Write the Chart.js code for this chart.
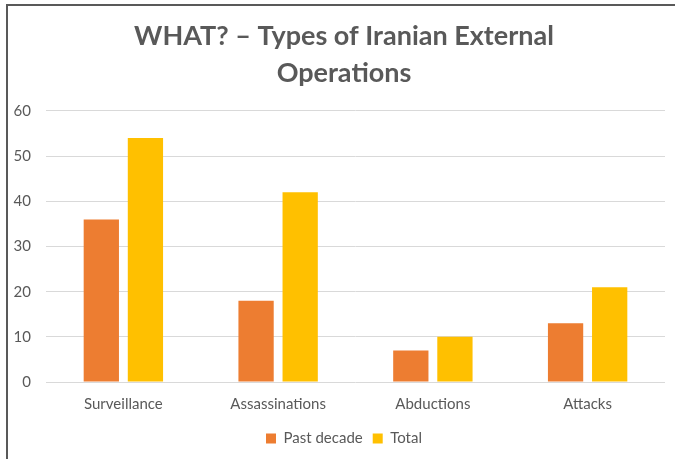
<!DOCTYPE html>
<html>
<head>
<meta charset="utf-8">
<script src="https://cdn.jsdelivr.net/npm/chart.js@4/dist/chart.umd.min.js"></script>
<style>
html,body{margin:0;padding:0;background:#fff;}
#wrap{width:675px;height:459px;position:relative;}
</style>
</head>
<body>
<div id="wrap"><canvas id="c" width="675" height="459"></canvas></div>
<script>
const categories = ["Surveillance", "Assassinations", "Abductions", "Attacks"];
const pastDecade = [36, 18, 7, 13];
const total = [54, 42, 10, 21];
const seriesNames = ["Past decade", "Total"];
const titleLines = ["WHAT? \u2013 Types of Iranian External", "Operations"];

const frame = {
  id: 'frame',
  afterDraw(chart) {
    const ctx = chart.ctx;
    ctx.save();
    ctx.strokeStyle = '#595959';
    ctx.lineWidth = 2;
    ctx.beginPath();
    ctx.moveTo(7, 459);
    ctx.lineTo(7, 5);
    ctx.lineTo(675, 5);
    ctx.stroke();
    ctx.restore();
  }
};

new Chart(document.getElementById('c'), {
  type: 'bar',
  data: {
    labels: categories,
    datasets: [
      { label: seriesNames[0], data: pastDecade, backgroundColor: '#ED7D31' },
      { label: seriesNames[1], data: total, backgroundColor: '#FFC000' }
    ]
  },
  options: {
    responsive: false,
    animation: false,
    devicePixelRatio: 1,
    layout: { padding: { left: 13, right: 0, top: 18, bottom: 3 } },
    datasets: { bar: { barPercentage: 0.8, categoryPercentage: 0.57 } },
    plugins: {
      title: {
        display: true,
        text: titleLines,
        color: '#595959',
        font: { family: 'Lato', size: 27, weight: 'bold', lineHeight: 1.37 },
        padding: { top: 0, bottom: 19 }
      },
      legend: {
        position: 'bottom',
        labels: {
          color: '#595959',
          font: { family: 'Lato', size: 15 },
          boxWidth: 10, boxHeight: 10, padding: 10
        }
      },
      tooltip: { enabled: false }
    },
    scales: {
      x: {
        grid: { display: false, drawTicks: false },
        border: { display: false },
        ticks: { color: '#595959', font: { family: 'Lato', size: 15 }, padding: 13 },
        afterFit(scale) { scale.height = 39; }
      },
      y: {
        min: 0, max: 60,
        ticks: { stepSize: 10, color: '#595959', font: { family: 'Lato', size: 15 }, padding: 15 },
        grid: { color: '#d9d9d9', lineWidth: 1, drawTicks: false },
        border: { display: false },
        afterFit(scale) { scale.width = 33; }
      },
      yRight: {
        position: 'right',
        display: true,
        ticks: { display: false },
        grid: { display: false, drawTicks: false },
        border: { display: false },
        afterFit(scale) { scale.width = 10; }
      }
    }
  },
  plugins: [frame]
});
</script>
</body>
</html>
